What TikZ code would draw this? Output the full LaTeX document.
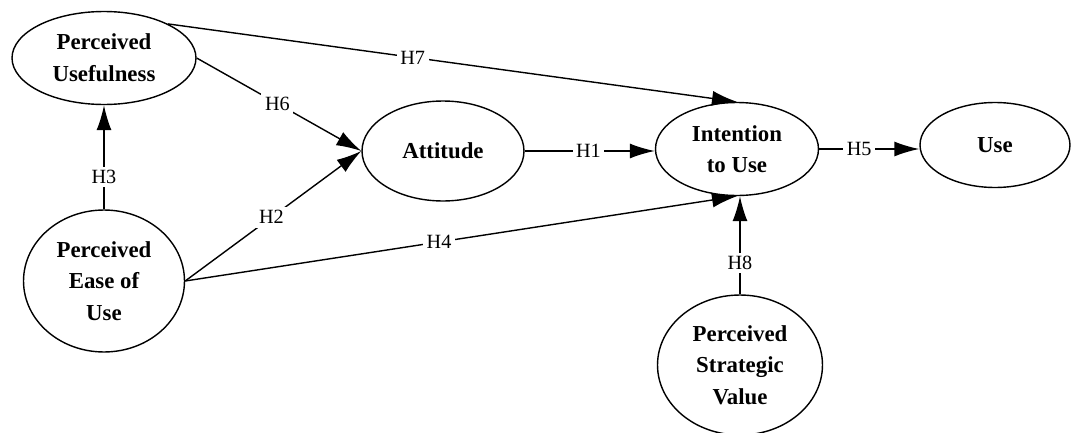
\documentclass[tikz,border=0pt]{standalone}
\usepackage{fontspec}
\setmainfont{Liberation Serif}
\usetikzlibrary{shapes.geometric,arrows.meta}

\begin{document}
\begin{tikzpicture}[
  x=0.02cm, y=-0.02cm,
  construct/.style={draw, ellipse, thick, inner sep=0pt, align=center,
    font=\fontsize{13}{18}\selectfont\bfseries},
  hyp/.style={fill=white, inner sep=2pt, font=\fontsize{11.5}{14}\selectfont},
  path/.style={thick, -{Latex[length=5mm,width=3mm]}}
]
  \useasboundingbox (0,0) rectangle (1073,433);
  % constructs
  \node[construct, minimum width=3.68cm, minimum height=1.86cm] (pu)   at (104, 58)  {Perceived\\Usefulness};
  \node[construct, minimum width=3.22cm, minimum height=2.84cm] (peou) at (104, 281) {Perceived\\Ease of\\Use};
  \node[construct, minimum width=3.24cm, minimum height=2.0cm]  (att)  at (443, 151) {Attitude};
  \node[construct, minimum width=3.26cm, minimum height=1.86cm] (int)  at (737, 149) {Intention\\to Use};
  \node[construct, minimum width=3.0cm,  minimum height=1.7cm]  (use)  at (995, 145) {Use};
  \node[construct, minimum width=3.3cm,  minimum height=2.8cm]  (psv)  at (740, 365) {Perceived\\Strategic\\Value};
  % hypotheses
  \draw[path] (att.east) -- node[hyp, pos=0.49] {H1} (int.west |- att.east);
  \draw[path] (peou.east) -- node[hyp, pos=0.49] {H2} (att.west);
  \draw[path] (peou.north) -- node[hyp, pos=0.31] {H3} (pu.south);
  \draw[path] (peou.east) -- node[hyp, pos=0.46] {H4} (int.south);
  \draw[path] (int.east) -- node[hyp, pos=0.4] {H5} (use.west |- int.east);
  \draw[path] (pu.east) -- node[hyp, pos=0.49] {H6} (att.west);
  \draw[path] (pu.28) -- node[hyp, pos=0.43] {H7} (int.north);
  \draw[path] (psv.north) -- node[hyp, pos=0.32] {H8} (psv.north |- int.south);
\end{tikzpicture}
\end{document}
